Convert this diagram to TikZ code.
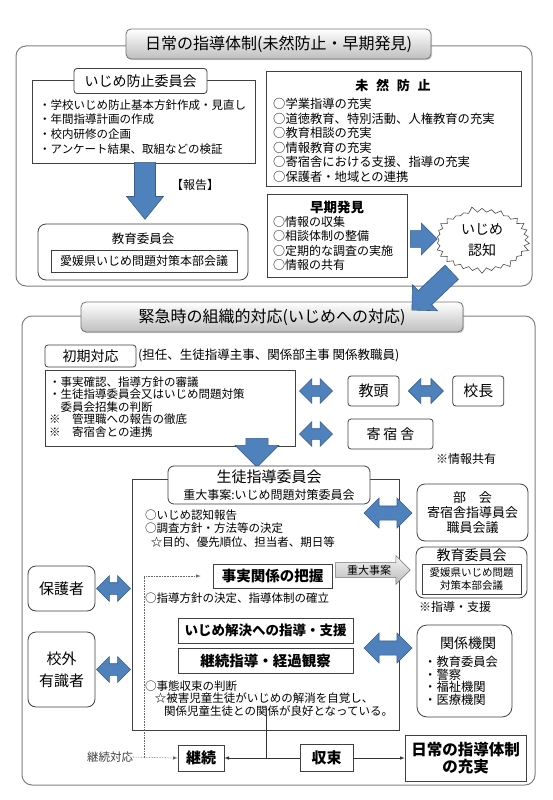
\documentclass[tikz,border=0pt]{standalone}
\usepackage{fontspec}
\setmainfont{Noto Sans CJK JP}
\usepackage{tikz}
\usetikzlibrary{shapes,arrows,positioning,calc,shadows}
\definecolor{arrowblue}{RGB}{79,129,189}
\definecolor{arrowedge}{RGB}{56,93,138}
\definecolor{titlegray}{RGB}{190,190,190}
\newcommand{\fs}[2]{\fontsize{#1}{#2}\selectfont}

\begin{document}
\begin{tikzpicture}[x=1pt, y=-1pt, >=latex, inner sep=0pt,
    frame/.style={draw=black!50, line width=1pt, rounded corners=10pt},
    headbox/.style={draw=black!55, line width=.8pt, rounded corners=5pt, top color=white, bottom color=titlegray,
      drop shadow={opacity=.35, shadow xshift=1.2pt, shadow yshift=-1.2pt}, minimum height=30pt, font=\fs{16}{18}},
    plain/.style={draw=black!75, line width=.8pt, fill=white},
    soft/.style={plain, rounded corners=8pt},
    tab/.style={plain, rounded corners=3pt},
    bluearrow/.style={single arrow, draw=arrowedge, fill=arrowblue, line width=.6pt, inner xsep=0pt},
    blueboth/.style={double arrow, draw=arrowedge, fill=arrowblue, line width=.6pt, inner xsep=0pt},
    link/.style={draw=black!80, line width=.6pt},
    dots/.style={draw=black!60, line width=.6pt, densely dotted}]
  \path[use as bounding box, fill=white] (0,0) rectangle (553,800);

  % upper part: daily guidance
  \node[frame, minimum width=516pt, minimum height=240pt] (upper) at (274,166) {};
  \node[headbox, minimum width=305pt] (title1) at (278.5,44) {日常の指導体制(未然防止・早期発見)};

  \node[plain, minimum width=223pt, minimum height=83pt] (iinkai) at (143.5,121.5) {};
  \node[tab, minimum width=133pt, minimum height=25pt, font=\fs{14}{16}] (iinkaitab) at (140.5,81) {いじめ防止委員会};
  \node[anchor=north west, align=left, font=\fs{11.5}{14.7}] (iinkaitext) at (39,99.2)
    {・学校いじめ防止基本方針作成・見直し\\・年間指導計画の作成\\・校内研修の企画\\・アンケート結果、取組などの検証};

  \node[plain, minimum width=255pt, minimum height=115pt] (mizen) at (393.5,128.5) {};
  \node[font=\bfseries\fs{13}{15}] (mizentitle) at (393,85) {未\hspace{0.6em}然\hspace{0.6em}防\hspace{0.6em}止};
  \node[anchor=north west, align=left, font=\fs{12.3}{14.5}] (mizentext) at (273,98.3)
    {○学業指導の充実\\○道徳教育、特別活動、人権教育の充実\\○教育相談の充実\\○情報教育の充実\\○寄宿舎における支援、指導の充実\\○保護者・地域との連携};

  \node[bluearrow, rotate=-90, anchor=tail, minimum height=57pt, minimum width=37pt, inner ysep=9pt, single arrow tip angle=78] (report) at (145,162) {};
  \node[font=\fs{12}{14}] (houkoku) at (195,185) {【報告】};

  \node[soft, minimum width=210pt, minimum height=56pt] (kyoiku) at (143,252) {};
  \node[font=\fs{12.5}{14}] (kyoikutitle) at (143,239) {教育委員会};
  \node[plain, minimum width=186pt, minimum height=22pt, font=\fs{12}{14}] (honbu) at (144,261) {愛媛県いじめ問題対策本部会議};

  \node[plain, minimum width=140pt, minimum height=83pt] (souki) at (337,235.5) {};
  \node[font=\bfseries\fs{13.5}{15}] (soukititle) at (337,207) {早期発見};
  \node[anchor=north west, align=left, font=\fs{12}{14.5}] (soukitext) at (273,216)
    {○情報の収集\\○相談体制の整備\\○定期的な調査の実施\\○情報の共有};

  \node[bluearrow, anchor=tail, minimum height=27pt, minimum width=32pt, inner ysep=7.5pt] (toninchi) at (410,239) {};
  \node[starburst, draw=black!70, line width=.6pt, fill=white, minimum width=98pt, minimum height=68pt,
    starburst points=30, starburst point height=6pt, random starburst=5, align=center, font=\fs{14}{21}] (ninchi) at (482,240) {いじめ\\認知};

  % lower part: emergency response
  \node[frame, minimum width=513pt, minimum height=469pt] (lower) at (278.5,550.5) {};
  \node[headbox, minimum width=382pt] (title2) at (272,317) {緊急時の組織的対応(いじめへの対応)};
  \node[bluearrow, rotate=223.5, anchor=tail, minimum height=55pt, minimum width=36pt, inner ysep=8pt] (tokinkyu) at (452,272) {};

  \node[tab, minimum width=91pt, minimum height=22pt, font=\fs{14}{16}] (shoki) at (90.5,356) {初期対応};
  \node[anchor=west, font=\fs{12.5}{14}] (tanto) at (138,355) {(担任、生徒指導主事、関係部主事 関係教職員)};
  \node[plain, minimum width=250pt, minimum height=76pt] (shokibox) at (170,408) {};
  \node[anchor=north west, align=left, font=\fs{11.5}{12.6}] (shokitext) at (49,376.2)
    {・事実確認、指導方針の審議\\・生徒指導委員会又はいじめ問題対策\\　委員会招集の判断\\※　管理職への報告の徹底\\※　寄宿舎との連携};

  \node[tab, minimum width=51pt, minimum height=30pt, font=\fs{15}{17}] (kyoto) at (373.5,391) {教頭};
  \node[tab, minimum width=51pt, minimum height=30pt, font=\fs{15}{17}, right=53pt of kyoto] (kocho) {校長};
  \node[tab, minimum width=85pt, minimum height=30pt, font=\fs{14}{16}] (kishuku) at (390.5,434) {寄\hspace{0.2em}宿\hspace{0.2em}舎};
  \node[blueboth, minimum height=33pt, minimum width=21pt, inner ysep=5pt] (e1) at (316,391) {};
  \node[blueboth, minimum height=35pt, minimum width=21pt, inner ysep=5pt] (e2) at ($(kyoto.east)!0.5!(kocho.west)$) {};
  \node[blueboth, minimum height=33pt, minimum width=21pt, inner ysep=5pt] (e3) at (316,434) {};

  \node[plain, minimum width=267pt, minimum height=251pt] (seito) at (265.5,604.5) {};
  \node[bluearrow, rotate=-90, anchor=tail, minimum height=29pt, minimum width=44pt, inner ysep=7pt] (toiinkai) at (257,438) {};
  \node[soft, rounded corners=6pt, minimum width=202pt, minimum height=38pt, align=center, font=\fs{12}{17}] (seitohead) at (269,485)
    {{\fs{15}{17}生徒指導委員会}\\重大事案:いじめ問題対策委員会};
  \node[anchor=north west, align=left, font=\fs{11.5}{13.5}] (chosa) at (145,509.2)
    {○いじめ認知報告\\○調査方針・方法等の決定\\\hspace{0.5em}☆目的、優先順位、担当者、期日等};
  \node[plain, minimum width=119pt, minimum height=24pt, font=\bfseries\fs{14.5}{16}] (haaku) at (272.5,576) {事実関係の把握};
  \node[anchor=west, font=\fs{11.5}{13}] (hoshin) at (145,598) {○指導方針の決定、指導体制の確立};
  \node[plain, minimum width=175pt, minimum height=25pt, font=\bfseries\fs{13.5}{16}] (kaiketsu) at (265.5,630.5) {いじめ解決への指導・支援};
  \node[plain, minimum width=175pt, minimum height=25pt, font=\bfseries\fs{14.5}{16}] (kansatsu) at (265.5,660.5) {継続指導・経過観察};
  \node[anchor=north west, align=left, font=\fs{11.5}{12.5}] (handan) at (145,680.2)
    {○事態収束の判断\\\hspace{0.85em}☆被害児童生徒がいじめの解消を自覚し、\\\hspace{1.65em}関係児童生徒との関係が良好となっている。};

  \node[single arrow, draw=black!55, line width=.6pt, top color=gray!8, bottom color=gray!55, anchor=tail,
    minimum height=75pt, minimum width=25pt, inner ysep=2pt, inner xsep=4pt, font=\fs{11}{12}] (judai) at (335,570) {重大事案};

  \node[font=\fs{12}{14}] (joho) at (466,459) {※情報共有};
  \node[soft, minimum width=111pt, minimum height=57pt, align=center, font=\fs{13}{15}] (bukai) at (472.5,512.5)
    {部\hspace{1em}会\\寄宿舎指導員会\\職員会議};
  \node[soft, minimum width=111pt, minimum height=51pt] (kyoiku2) at (471.5,572.5) {};
  \node[font=\fs{14}{16}] (kyoiku2title) at (471.5,555.5) {教育委員会};
  \node[plain, minimum width=99pt, minimum height=30pt, align=center, font=\fs{10.5}{13}] (honbu2) at (471.5,579) {愛媛県いじめ問題\\対策本部会議};
  \node[font=\fs{12}{14}] (shien) at (455,607) {※指導・支援};
  \node[soft, rounded corners=10pt, minimum width=95pt, minimum height=92pt] (kikan) at (464.5,671) {};
  \node[font=\fs{14}{16}] (kikantitle) at (468,643) {関係機関};
  \node[anchor=north west, align=left, font=\fs{12.3}{12.4}] (kikantext) at (424,656.3)
    {・教育委員会\\・警察\\・福祉機関\\・医療機関};
  \node[blueboth, minimum height=48pt, minimum width=30pt, inner ysep=6pt] (e4) at (388,513) {};
  \node[blueboth, minimum height=48pt, minimum width=30pt, inner ysep=6pt] (e5) at (388,648) {};

  \node[soft, minimum width=67pt, minimum height=45pt, font=\fs{15}{17}] (hogosha) at (61.5,588.5) {保護者};
  \node[soft, minimum width=67pt, minimum height=75pt, align=center, font=\fs{15}{22}] (yushiki) at (61.5,669.5) {校外\\有識者};
  \node[blueboth, minimum height=34pt, minimum width=24pt, inner ysep=5.5pt] (e6) at ($(hogosha.east)!0.5!(seito.west|-hogosha.east)$) {};
  \node[blueboth, minimum height=34pt, minimum width=24pt, inner ysep=5.5pt] (e7) at ($(yushiki.east)!0.5!(seito.west|-yushiki.east)$) {};

  \node[plain, minimum width=46pt, minimum height=26pt, font=\bfseries\fs{15}{17}] (keizoku) at (201,758) {継続};
  \node[plain, minimum width=53pt, minimum height=27pt, font=\bfseries\fs{15}{17}] (shusoku) at (326.5,758) {収束};
  \node[plain, minimum width=121pt, minimum height=46pt, align=center, font=\bfseries\fs{15.5}{17.5}] (nichijo) at (465.5,758) {日常の指導体制\\の充実};
  \node[font=\fs{11.5}{13}, text=black!75] (taio) at (110,757) {継続対応};

  \coordinate (junc) at (266,758);
  \coordinate (loop) at (144,758);
  \draw[link] (shusoku.west) -- (junc) -- (266,708);
  \draw[link, ->] (junc) -- (keizoku.east);
  \draw[link, ->] (shusoku.east) -- (nichijo.west);
  \draw[dots, ->] (taio.east) -- (keizoku.west);
  \draw[dots, ->] (loop) |- ($(haaku.west)+(-12,0)$);
\end{tikzpicture}
\end{document}
